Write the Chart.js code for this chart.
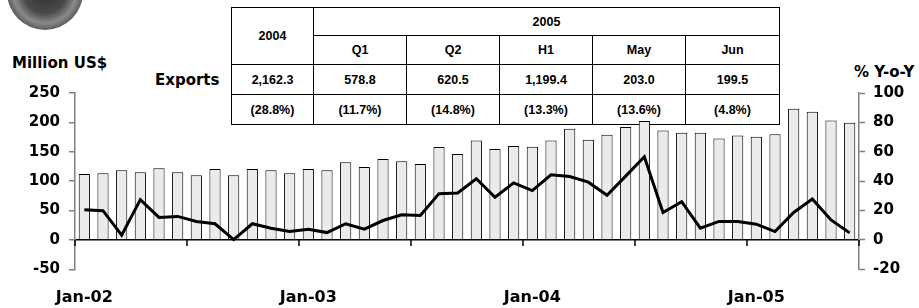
<!DOCTYPE html>
<html>
<head>
<meta charset="utf-8">
<script src="https://cdn.jsdelivr.net/npm/chart.js@4"></script>
<style>
  html, body { margin:0; padding:0; background:#fff; overflow:hidden; }
  #wrap { position:relative; width:919px; height:308px; font-family:"DejaVu Sans", sans-serif; font-weight:bold; color:#000; }
  #logo { position:absolute; left:7px; top:-46px; width:76px; height:76px; border-radius:50%;
          background: radial-gradient(circle at 50% 50%, #2e2e2e 0%, #4a4a4a 40%, #8a8a8a 58%, #5e5e5e 70%, #a8a8a8 84%, #c9c9c9 92%, #7a7a7a 100%); }
  #tbl { position:absolute; left:231px; top:7px; border-collapse:collapse; table-layout:fixed; font-family:"Liberation Sans", Arial, sans-serif; font-size:12.5px; background:#fff; }
  #tbl td { border:1px solid #000; text-align:center; vertical-align:middle; padding:0; }
  .lbl { position:absolute; white-space:nowrap; line-height:1; font-size:15px; }
  canvas { position:absolute; left:0; top:0; }
</style>
</head>
<body>
<div id="wrap">
  <div id="logo"></div>
  <table id="tbl">
    <colgroup><col style="width:82px"><col style="width:93px"><col style="width:93px"><col style="width:93px"><col style="width:93px"><col style="width:94px"></colgroup>
    <tr style="height:28px"><td rowspan="2">2004</td><td colspan="5">2005</td></tr>
    <tr style="height:29px"><td>Q1</td><td>Q2</td><td>H1</td><td>May</td><td>Jun</td></tr>
    <tr style="height:30px"><td>2,162.3</td><td>578.8</td><td>620.5</td><td>1,199.4</td><td>203.0</td><td>199.5</td></tr>
    <tr style="height:30px"><td>(28.8%)</td><td>(11.7%)</td><td>(14.8%)</td><td>(13.3%)</td><td>(13.6%)</td><td>(4.8%)</td></tr>
  </table>
  <div class="lbl" style="left:12px;top:56px;">Million US$</div>
  <div class="lbl" style="left:155px;top:73px;">Exports</div>
  <div class="lbl" style="left:854px;top:64.5px;">% Y-o-Y</div>
  <canvas id="c" width="919" height="308"></canvas>
</div>
<script>
const months = [
  "Jan-02","Feb-02","Mar-02","Apr-02","May-02","Jun-02","Jul-02","Aug-02","Sep-02","Oct-02","Nov-02","Dec-02",
  "Jan-03","Feb-03","Mar-03","Apr-03","May-03","Jun-03","Jul-03","Aug-03","Sep-03","Oct-03","Nov-03","Dec-03",
  "Jan-04","Feb-04","Mar-04","Apr-04","May-04","Jun-04","Jul-04","Aug-04","Sep-04","Oct-04","Nov-04","Dec-04",
  "Jan-05","Feb-05","Mar-05","Apr-05","May-05","Jun-05"
];
// Exports, million US$
const exportsValues = [
  112, 113.6, 118.7, 115.3, 122, 115, 110, 120.5, 110, 120.5, 118.7, 113.6,
  120.5, 118.7, 132.3, 124, 137.5, 134, 129, 158, 146, 169, 154.5, 159.7,
  158.5, 169, 189, 170.5, 179, 192, 202.5, 186, 182.5, 182.5, 172.5, 177.5,
  175.5, 180, 223.3, 218, 203.0, 199.5
];
// % Y-o-Y growth
const yoyValues = [
  20.5, 19.9, 3.2, 27.4, 15.3, 16, 12.6, 11, 0.2, 11, 8, 5.7,
  7.3, 5, 11, 7.3, 13.2, 17.1, 16.7, 31.5, 32, 41.6, 29, 38.8,
  33.6, 44.3, 43.2, 39.3, 30.4, 43.4, 56.6, 18.7, 26, 8, 12.6, 12.6,
  10.7, 5.7, 18.7, 27.8, 13.6, 4.8
];
const leftTicks = { min: -50, max: 250, step: 50 };
const rightTicks = { min: -20, max: 100, step: 20 };
const axisLabelMonths = ["Jan-02","Jan-03","Jan-04","Jan-05"];

const zeroTicks = {
  id: 'zeroTicks',
  afterDatasetsDraw(chart) {
    const x = chart.scales.x, y = chart.scales.y, ctx = chart.ctx;
    const y0 = y.getPixelForValue(0);
    ctx.save();
    ctx.strokeStyle = '#000';
    ctx.lineWidth = 1.5;
    for (let i = 0; i <= months.length; i += 6) {
      const px = Math.round(x.getPixelForValue(i - 0.5));
      ctx.beginPath();
      ctx.moveTo(px, y0);
      ctx.lineTo(px, y0 + 6);
      ctx.stroke();
    }
    ctx.restore();
  }
};

Chart.defaults.color = '#000';
Chart.defaults.font.family = '"DejaVu Sans", sans-serif';
Chart.defaults.font.weight = 'bold';

new Chart(document.getElementById('c'), {
  data: {
    labels: months,
    datasets: [
      {
        type: 'line', data: yoyValues, yAxisID: 'y1', order: 0,
        borderColor: '#000', borderWidth: 3, pointRadius: 0, tension: 0, fill: false
      },
      {
        type: 'bar', data: exportsValues, yAxisID: 'y', order: 1,
        backgroundColor: '#ebebeb', borderColor: '#000', borderWidth: 1,
        barPercentage: 0.6, categoryPercentage: 1
      }
    ]
  },
  options: {
    responsive: false,
    devicePixelRatio: 1,
    animation: false,
    layout: { padding: { top: 93, left: 0, right: 0, bottom: 0 } },
    plugins: { legend: { display: false }, tooltip: { enabled: false } },
    scales: {
      x: {
        type: 'category',
        offset: true,
        grid: { display: false, drawTicks: false },
        border: { display: false },
        ticks: {
          autoSkip: false, maxRotation: 0, minRotation: 0, padding: 19,
          font: { size: 16, weight: 'bold' },
          callback: function(v, i) { const l = months[i]; return axisLabelMonths.includes(l) ? l : ''; }
        },
        afterFit(s) { s.height = 38.7; }
      },
      y: {
        position: 'left',
        min: leftTicks.min, max: leftTicks.max,
        ticks: { stepSize: leftTicks.step, padding: 9, font: { size: 15, weight: 'bold' } },
        grid: {
          drawOnChartArea: true, tickLength: 6, lineWidth: 1.5,
          color: c => (c.tick && c.tick.value === 0) ? '#000' : 'rgba(0,0,0,0)',
          tickColor: '#808080', tickWidth: 1.5
        },
        border: { display: true, color: '#808080', width: 1.5 },
        afterFit(s) { s.width = 75; }
      },
      y1: {
        position: 'right',
        min: rightTicks.min, max: rightTicks.max,
        ticks: { stepSize: rightTicks.step, padding: 8, font: { size: 15, weight: 'bold' } },
        grid: { drawOnChartArea: false, tickLength: 6, tickColor: '#808080', tickWidth: 1.5 },
        border: { display: true, color: '#808080', width: 1.5 },
        afterFit(s) { s.width = 60; }
      }
    }
  },
  plugins: [zeroTicks]
});
</script>
</body>
</html>
